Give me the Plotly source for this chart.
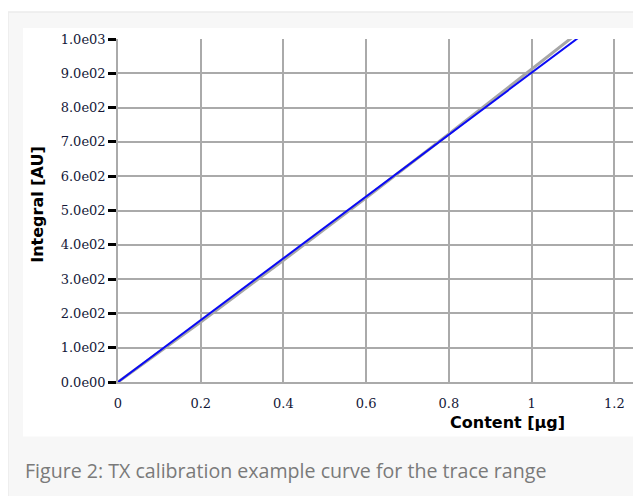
import plotly.graph_objects as go

# ---- data ----
content_ug = [0.0, 0.2, 0.4, 0.6, 0.8, 1.0, 1.2]
calib_blue = [0, 180, 361, 541, 721, 902, 1082]
fit_grey = [0, 175, 355, 537, 723, 911, 1101]

y_tickvals = [0, 100, 200, 300, 400, 500, 600, 700, 800, 900, 1000]
y_ticktext = ["0.0e00", "1.0e02", "2.0e02", "3.0e02", "4.0e02", "5.0e02",
              "6.0e02", "7.0e02", "8.0e02", "9.0e02", "1.0e03"]
x_tickvals = [0, 0.2, 0.4, 0.6, 0.8, 1.0, 1.2]
x_ticktext = ["0", "0.2", "0.4", "0.6", "0.8", "1", "1.2"]

caption = "Figure 2: TX calibration example curve for the trace range"

OFF = 8  # page body margin
W, H = 641 - OFF, 496 - OFF
L, T = 118 - OFF, 39 - OFF
R = W - (635 - OFF)
B = H - (382.5 - OFF)
PW, PH = W - L - R, H - T - B


def fx(px):  # screen pixel -> paper
    return (px - OFF - L) / PW


def fy(py):
    return (H - B - (py - OFF)) / PH


fig = go.Figure()
fig.add_trace(go.Scatter(x=content_ug, y=fit_grey, mode="lines",
                         line=dict(color="#a6a6a6", width=3), hoverinfo="skip",
                         showlegend=False))
fig.add_trace(go.Scatter(x=content_ug, y=calib_blue, mode="lines",
                         line=dict(color="#0a0af5", width=2), showlegend=False))

shapes = [
    dict(type="rect", xref="paper", yref="paper", x0=fx(8), x1=fx(660),
         y0=fy(12), y1=fy(520), fillcolor="#f7f7f7",
         line=dict(color="#ececec", width=1.5), layer="below"),
    dict(type="rect", xref="paper", yref="paper", x0=fx(23), x1=fx(635),
         y0=fy(28), y1=fy(437), fillcolor="white",
         line=dict(width=0), layer="below"),
]

annotations = [
    dict(text="<b>Integral [AU]</b>", xref="paper", yref="paper",
         x=fx(38), y=fy(205), textangle=-90, showarrow=False,
         xanchor="center", yanchor="middle",
         font=dict(family="DejaVu Sans", size=16, color="black")),
    dict(text="<b>Content [µg]</b>", xref="paper", yref="paper",
         x=fx(507), y=fy(423), showarrow=False,
         xanchor="center", yanchor="middle",
         font=dict(family="DejaVu Sans", size=16, color="black")),
    dict(text=caption, xref="paper", yref="paper", x=fx(23), y=fy(471),
         xanchor="left", yanchor="middle", showarrow=False,
         font=dict(family="Open Sans", size=19.6, color="#7a7a7a")),
]

fig.update_layout(
    width=W, height=H,
    margin=dict(l=L, r=R, t=T, b=B, pad=0),
    paper_bgcolor="white", plot_bgcolor="white",
    shapes=shapes, annotations=annotations,
    xaxis=dict(range=[0, 1.25], tickvals=x_tickvals, ticktext=x_ticktext,
               showgrid=True, gridcolor="#aaaaaa", gridwidth=1.5,
               zeroline=False, showline=True, linecolor="#aaaaaa", linewidth=1.5,
               ticks="outside", ticklen=9, tickcolor="rgba(0,0,0,0)",
               tickfont=dict(family="DejaVu Serif", size=13, color="#141838")),
    yaxis=dict(range=[0, 1000], tickvals=y_tickvals, ticktext=y_ticktext,
               showgrid=True, gridcolor="#aaaaaa", gridwidth=1.5,
               zeroline=False, showline=True, linecolor="#aaaaaa", linewidth=1.5,
               ticks="outside", ticklen=8, tickwidth=2.5, tickcolor="black",
               tickfont=dict(family="DejaVu Serif", size=13, color="#141838")),
)

fig.write_html("out.html")
